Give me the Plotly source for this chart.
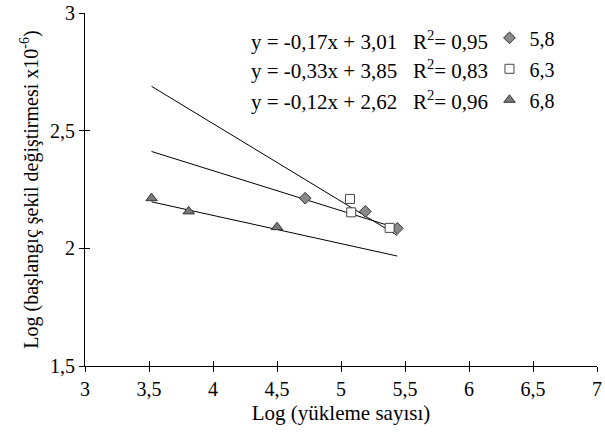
import plotly.graph_objects as go

# ---- data ----
series_names = ["5,8", "6,3", "6,8"]
x_58 = [4.72, 5.19, 5.44]
y_58 = [2.213, 2.157, 2.085]
x_63 = [5.07, 5.08, 5.38]
y_63 = [2.21, 2.153, 2.087]
x_68 = [3.52, 3.81, 4.50]
y_68 = [2.213, 2.157, 2.09]
slopes = [-0.17, -0.33, -0.12]
intercepts = [3.01, 3.85, 2.62]
r2_values = ["0,95", "0,83", "0,96"]
x_ticks = [3, 3.5, 4, 4.5, 5, 5.5, 6, 6.5, 7]
y_ticks = [1.5, 2, 2.5, 3]

FONT = "Liberation Serif"
FS = 20
xs = [x_58, x_63, x_68]
ys = [y_58, y_63, y_68]
markers = [
    dict(symbol="diamond", size=9, color="#8a8a8a", line=dict(color="#333333", width=1)),
    dict(symbol="square", size=9, color="white", line=dict(color="#444444", width=1)),
    dict(symbol="triangle-up", size=10, color="#7a7a7a", line=dict(color="#333333", width=1)),
]

all_x = x_58 + x_63 + x_68
x_lo, x_hi = min(all_x), max(all_x)

fig = go.Figure()
for i in range(3):
    fig.add_trace(go.Scatter(
        x=[x_lo, x_hi],
        y=[slopes[i] * x_lo + intercepts[i], slopes[i] * x_hi + intercepts[i]],
        mode="lines", line=dict(color="black", width=1),
        showlegend=False, hoverinfo="skip"))
for i in range(3):
    fig.add_trace(go.Scatter(
        x=xs[i], y=ys[i], mode="markers", marker=markers[i],
        name=series_names[i], legendgroup=series_names[i]))

# secondary axes for tick marks crossing the axis line
fig.add_trace(go.Scatter(x=[None], y=[None], xaxis="x2", yaxis="y2", showlegend=False))

axis_common = dict(showgrid=False, zeroline=False, linecolor="black", linewidth=1,
                   tickcolor="black", ticklen=5, tickwidth=1, automargin=False,
                   ticklabeloverflow="allow",
                   tickfont=dict(family=FONT, size=FS, color="black"))
fig.update_layout(
    width=605, height=436,
    margin=dict(l=85, r=8, t=13, b=70),
    plot_bgcolor="white", paper_bgcolor="white",
    separators=", ",
    font=dict(family=FONT, size=FS, color="black"),
    xaxis=dict(range=[3, 7], tickvals=x_ticks, ticks="outside", showline=True,
               title=dict(text="Log (yükleme sayısı)", font=dict(family=FONT, size=21), standoff=6),
               **axis_common),
    yaxis=dict(range=[1.5, 3], tickvals=y_ticks, ticks="outside", showline=True,
               title=dict(text="Log (başlangıç şekil değiştirmesi x10<sup>-6</sup>)",
                          font=dict(family=FONT, size=FS), standoff=6),
               **axis_common),
    xaxis2=dict(range=[3, 7], tickvals=x_ticks, ticks="inside", overlaying="x",
                showticklabels=False, showline=False, showgrid=False, zeroline=False,
                tickcolor="black", ticklen=5, anchor="y", automargin=False),
    yaxis2=dict(range=[1.5, 3], tickvals=y_ticks, ticks="inside", overlaying="y",
                showticklabels=False, showline=False, showgrid=False, zeroline=False,
                tickcolor="black", ticklen=5, anchor="x", automargin=False),
    legend=dict(x=0.79, y=0.985, xanchor="left", yanchor="top", traceorder="grouped",
                tracegroupgap=2, itemwidth=30, bgcolor="rgba(0,0,0,0)",
                font=dict(family=FONT, size=FS)),
)

for i in range(3):
    s = f"{slopes[i]:.2f}".replace(".", ",")
    b = f"{intercepts[i]:.2f}".replace(".", ",")
    fig.add_annotation(
        xref="paper", yref="paper", x=(249 - 85) / 512, y=(366 - (40 + 30 * i)) / 353,
        xanchor="left", yanchor="middle", showarrow=False,
        text=f"y = {s}x + {b}   R<sup>2</sup>= {r2_values[i]}",
        font=dict(family=FONT, size=21, color="black"))

fig.write_html("out.html", config={"displayModeBar": False},
               post_script="document.body.style.margin='0';document.body.style.overflow='hidden';")
